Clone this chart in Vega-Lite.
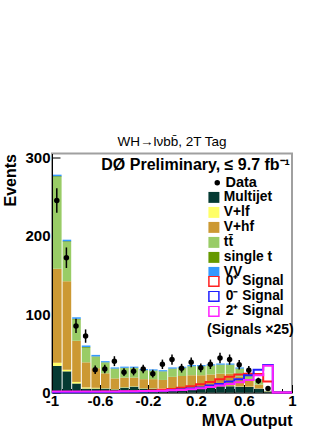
{
  "$schema": "https://vega.github.io/schema/vega-lite/v6.json",
  "width": 240,
  "height": 239,
  "autosize": "none",
  "padding": {"left": 52, "top": 153.5, "right": 40, "bottom": 37.5},
  "background": "white",
  "config": {
    "font": "Liberation Sans",
    "view": {"stroke": "#a0a0a0", "strokeWidth": 2},
    "axis": {
      "labelFont": "Liberation Sans", "labelFontWeight": "bold", "labelFontSize": 15, "labelColor": "black",
      "titleFont": "Liberation Sans", "titleFontWeight": "bold", "titleFontSize": 16, "titleColor": "black",
      "domainColor": "black", "tickColor": "black", "grid": false, "labelOverlap": false, "labelBound": false, "zindex": 1
    },
    "legend": {
      "labelFont": "Liberation Sans", "labelFontWeight": "bold", "labelFontSize": 13.8, "labelColor": "black",
      "titleFont": "Liberation Sans", "titleFontWeight": "bold", "titleColor": "black", "padding": 0
    }
  },
  "title": {"text": "WH→lνbb̄, 2T Tag", "fontSize": 13.5, "fontWeight": "normal", "font": "Liberation Sans", "offset": 2, "anchor": "middle", "color": "black"},
  "datasets": {
    "bg": [
      {"b": -1, "e": -0.92, "p1": 34, "p2": 4, "p3": 120, "p4": 117, "p5": 1, "p6": 2},
      {"b": -0.92, "e": -0.84, "p1": 27, "p2": 2, "p3": 113, "p4": 50, "p5": 1, "p6": 2},
      {"b": -0.84, "e": -0.76, "p1": 11.5, "p2": 2, "p3": 52.5, "p4": 27, "p5": 1, "p6": 2},
      {"b": -0.76, "e": -0.68, "p1": 5, "p2": 1.5, "p3": 32, "p4": 18.5, "p5": 1, "p6": 2},
      {"b": -0.68, "e": -0.6, "p1": 5, "p2": 1, "p3": 25, "p4": 14.5, "p5": 0.5, "p6": 2},
      {"b": -0.6, "e": -0.52, "p1": 5, "p2": 0.5, "p3": 19, "p4": 13.5, "p5": 0.5, "p6": 1.5},
      {"b": -0.52, "e": -0.44, "p1": 4, "p2": 0.5, "p3": 13.5, "p4": 12, "p5": 0.5, "p6": 1.5},
      {"b": -0.44, "e": -0.36, "p1": 6.4, "p2": 0.6, "p3": 12, "p4": 12, "p5": 0.5, "p6": 1.5},
      {"b": -0.36, "e": -0.28, "p1": 7.5, "p2": 0.5, "p3": 11, "p4": 12, "p5": 0.5, "p6": 1.5},
      {"b": -0.28, "e": -0.2, "p1": 5, "p2": 0.5, "p3": 11.5, "p4": 11, "p5": 0.5, "p6": 1.5},
      {"b": -0.2, "e": -0.12, "p1": 5, "p2": 0.5, "p3": 11.5, "p4": 10.5, "p5": 0.5, "p6": 1.5},
      {"b": -0.12, "e": -0.04, "p1": 4.5, "p2": 0.5, "p3": 11, "p4": 10.5, "p5": 0.5, "p6": 1.5},
      {"b": -0.04, "e": 0.04, "p1": 5, "p2": 0.5, "p3": 14.5, "p4": 10, "p5": 0.5, "p6": 1.5},
      {"b": 0.04, "e": 0.12, "p1": 5, "p2": 0.5, "p3": 15.5, "p4": 10, "p5": 0.5, "p6": 1.5},
      {"b": 0.12, "e": 0.2, "p1": 5.5, "p2": 0.5, "p3": 16, "p4": 11, "p5": 0.5, "p6": 1.5},
      {"b": 0.2, "e": 0.28, "p1": 6, "p2": 0.5, "p3": 15.5, "p4": 11, "p5": 0.5, "p6": 1.5},
      {"b": 0.28, "e": 0.36, "p1": 7.5, "p2": 0.5, "p3": 15, "p4": 11, "p5": 0.5, "p6": 1.5},
      {"b": 0.36, "e": 0.44, "p1": 8, "p2": 0.5, "p3": 15.5, "p4": 11, "p5": 0.5, "p6": 1.5},
      {"b": 0.44, "e": 0.52, "p1": 8, "p2": 0.5, "p3": 15.5, "p4": 11, "p5": 0.5, "p6": 1.5},
      {"b": 0.52, "e": 0.6, "p1": 7.5, "p2": 0.5, "p3": 12, "p4": 10, "p5": 0.5, "p6": 1.5},
      {"b": 0.6, "e": 0.68, "p1": 7, "p2": 0.5, "p3": 8.5, "p4": 7.5, "p5": 0.3, "p6": 1.2},
      {"b": 0.68, "e": 0.76, "p1": 5, "p2": 0.3, "p3": 4.7, "p4": 6, "p5": 0.3, "p6": 0.7},
      {"b": 0.76, "e": 0.84, "p1": 1, "p2": 0.1, "p3": 0.4, "p4": 0.5, "p5": 0, "p6": 0.2}
    ],
    "sig": [
      {"x": -1, "s1": 0.5, "s2": 0.3, "s3": 1.2},
      {"x": -0.92, "s1": 0.5, "s2": 0.3, "s3": 1.2},
      {"x": -0.84, "s1": 0.5, "s2": 0.3, "s3": 1.2},
      {"x": -0.76, "s1": 0.6, "s2": 0.4, "s3": 1.2},
      {"x": -0.68, "s1": 0.7, "s2": 0.5, "s3": 1.3},
      {"x": -0.6, "s1": 0.8, "s2": 0.6, "s3": 1.3},
      {"x": -0.52, "s1": 1, "s2": 0.7, "s3": 1.4},
      {"x": -0.44, "s1": 1.2, "s2": 0.8, "s3": 1.5},
      {"x": -0.36, "s1": 1.5, "s2": 1, "s3": 1.6},
      {"x": -0.28, "s1": 2, "s2": 1.2, "s3": 1.8},
      {"x": -0.2, "s1": 2.5, "s2": 1.5, "s3": 2},
      {"x": -0.12, "s1": 3.5, "s2": 2, "s3": 2.3},
      {"x": -0.04, "s1": 4.5, "s2": 2.8, "s3": 2.8},
      {"x": 0.04, "s1": 6, "s2": 3.8, "s3": 3.3},
      {"x": 0.12, "s1": 8, "s2": 5, "s3": 4},
      {"x": 0.2, "s1": 10.5, "s2": 6.5, "s3": 5.5},
      {"x": 0.28, "s1": 13.5, "s2": 9, "s3": 7},
      {"x": 0.36, "s1": 17, "s2": 11, "s3": 9},
      {"x": 0.44, "s1": 20, "s2": 14, "s3": 11},
      {"x": 0.52, "s1": 23, "s2": 17, "s3": 13},
      {"x": 0.6, "s1": 24, "s2": 22, "s3": 16},
      {"x": 0.68, "s1": 23.5, "s2": 29, "s3": 22},
      {"x": 0.76, "s1": 14, "s2": 35, "s3": 34},
      {"x": 0.84, "s1": 0, "s2": 0, "s3": 0},
      {"x": 0.92, "s1": 0, "s2": 0, "s3": 0},
      {"x": 1, "s1": 0, "s2": 0, "s3": 0}
    ],
    "obs": [
      {"c": -0.96, "n": 245, "lo": 229.3, "hi": 260.7},
      {"c": -0.88, "n": 172, "lo": 158.9, "hi": 185.1},
      {"c": -0.8, "n": 85, "lo": 75.8, "hi": 94.2},
      {"c": -0.72, "n": 72, "lo": 63.5, "hi": 80.5},
      {"c": -0.64, "n": 29, "lo": 23.6, "hi": 34.4},
      {"c": -0.56, "n": 30, "lo": 24.5, "hi": 35.5},
      {"c": -0.48, "n": 40, "lo": 33.7, "hi": 46.3},
      {"c": -0.4, "n": 26, "lo": 20.9, "hi": 31.1},
      {"c": -0.32, "n": 27, "lo": 21.8, "hi": 32.2},
      {"c": -0.24, "n": 30, "lo": 24.5, "hi": 35.5},
      {"c": -0.16, "n": 24, "lo": 19.1, "hi": 28.9},
      {"c": -0.08, "n": 36, "lo": 30, "hi": 42},
      {"c": 0, "n": 42, "lo": 35.5, "hi": 48.5},
      {"c": 0.08, "n": 31, "lo": 25.4, "hi": 36.6},
      {"c": 0.16, "n": 38.5, "lo": 32.3, "hi": 44.7},
      {"c": 0.24, "n": 31.5, "lo": 25.9, "hi": 37.1},
      {"c": 0.32, "n": 36, "lo": 30, "hi": 42},
      {"c": 0.4, "n": 44, "lo": 37.4, "hi": 50.6},
      {"c": 0.48, "n": 42, "lo": 35.5, "hi": 48.5},
      {"c": 0.56, "n": 35.5, "lo": 29.5, "hi": 41.5},
      {"c": 0.64, "n": 28.5, "lo": 23.2, "hi": 33.8},
      {"c": 0.72, "n": 15, "lo": 11.1, "hi": 18.9},
      {"c": 0.8, "n": 5, "lo": 2.8, "hi": 7.2}
    ]
  },
  "layer": [
    {
      "data": {"name": "bg"},
      "transform": [
        {"fold": ["p1", "p2", "p3", "p4", "p5", "p6"], "as": ["proc", "val"]}
      ],
      "mark": {"type": "bar", "strokeWidth": 0},
      "encoding": {
        "x": {
          "field": "b", "type": "quantitative", "bin": {"binned": true, "step": 0.08}, "title": "MVA Output",
          "scale": {"domain": [-1, 1], "nice": false, "zero": false},
          "axis": {
            "values": [-1, -0.92, -0.84, -0.76, -0.68, -0.6, -0.52, -0.44, -0.36, -0.28, -0.2, -0.12, -0.04, 0.04, 0.12, 0.2, 0.28, 0.36, 0.44, 0.52, 0.6, 0.68, 0.76, 0.84, 0.92, 1],
            "labelExpr": "indexof([-1, -0.6, -0.2, 0.2, 0.6, 1], datum.value) >= 0 ? '' + datum.value : ''",
            "tickSize": {"condition": {"test": "indexof([-1, -0.6, -0.2, 0.2, 0.6, 1], datum.value) >= 0", "value": -8}, "value": -4},
            "labelOverlap": false, "labelFlush": false,
            "labelPadding": 9, "titleAnchor": "end", "titlePadding": 0
          }
        },
        "x2": {"field": "e"},
        "y": {
          "field": "val", "type": "quantitative", "stack": "zero", "title": "Events",
          "scale": {"domain": [0, 305], "nice": false},
          "axis": {
            "values": [0, 50, 100, 150, 200, 250, 300],
            "format": "d",
            "tickSize": -8,
            "labelOverlap": false, "labelSeparation": -80, "labelFlush": false,
            "labelPadding": 10, "titleAnchor": "end", "titlePadding": 6
          }
        },
        "fill": {
          "field": "proc", "type": "nominal",
          "scale": {"domain": ["p1", "p2", "p3", "p4", "p5", "p6"], "range": ["#053a33", "#ffff66", "#cc9933", "#99cc66", "#669900", "#3399ff"]},
          "legend": {
            "orient": "none", "legendX": 155, "legendY": 37, "title": null, "rowPadding": 0,
            "symbolType": "square", "symbolSize": 120, "symbolStrokeWidth": 0, "labelOffset": 3,
            "labelExpr": "datum.label == 'p1' ? 'Multijet' : datum.label == 'p2' ? 'V+lf' : datum.label == 'p3' ? 'V+hf' : datum.label == 'p4' ? 'tt̄' : datum.label == 'p5' ? 'single t' : 'VV'"
          }
        },
        "order": {"field": "proc", "sort": "ascending"}
      }
    },
    {
      "data": {"name": "sig"},
      "transform": [{"fold": ["s1", "s2", "s3"], "as": ["sig", "val"]}],
      "mark": {"type": "line", "interpolate": "step-after", "strokeWidth": 2},
      "encoding": {
        "x": {"field": "x", "type": "quantitative", "title": "MVA Output"},
        "y": {"field": "val", "type": "quantitative", "title": "Events"},
        "stroke": {
          "field": "sig", "type": "nominal",
          "scale": {"domain": ["s1", "s2", "s3"], "range": ["#ff2020", "#2020ff", "#ff20ff"]},
          "legend": {
            "orient": "none", "legendX": 155, "legendY": 122.4, "title": "(Signals ×25)", "titleOrient": "bottom", "titleFontSize": 14, "titleFontWeight": "bold", "titlePadding": 5,
            "rowPadding": 0, "clipHeight": 10.5,
            "symbolType": "square", "symbolSize": 100, "symbolStrokeWidth": 1.5, "symbolFillColor": "white", "labelOffset": 5,
            "labelExpr": "datum.label == 's1' ? '0⁺ Signal' : datum.label == 's2' ? '0⁻ Signal' : '2⁺ Signal'"
          }
        }
      }
    },
    {
      "data": {"name": "obs"},
      "mark": {"type": "rule", "color": "black", "strokeWidth": 1.5},
      "encoding": {
        "x": {"field": "c", "type": "quantitative", "title": "MVA Output"},
        "y": {"field": "lo", "type": "quantitative", "title": "Events"},
        "y2": {"field": "hi"}
      }
    },
    {
      "data": {"name": "obs"},
      "mark": {"type": "point", "filled": true, "color": "black", "size": 30, "opacity": 1},
      "encoding": {
        "x": {"field": "c", "type": "quantitative", "title": "MVA Output"},
        "y": {"field": "n", "type": "quantitative", "title": "Events"},
        "shape": {
          "datum": "Data", "type": "nominal", "scale": {"range": ["circle"]},
          "legend": {"orient": "none", "legendX": 158, "legendY": 22, "title": null, "symbolSize": 30, "symbolFillColor": "black", "symbolStrokeWidth": 0, "labelOffset": 1, "labelFontSize": 14.5}
        }
      }
    },
    {
      "data": {"values": [{}]},
      "mark": {"type": "text", "align": "right", "baseline": "alphabetic", "fontSize": 16, "fontWeight": "bold", "font": "Liberation Sans", "color": "black"},
      "encoding": {
        "x": {"datum": 0.983},
        "y": {"datum": 284},
        "text": {"value": "DØ Preliminary, ≤ 9.7 fb⁻¹"}
      }
    }
  ]
}
